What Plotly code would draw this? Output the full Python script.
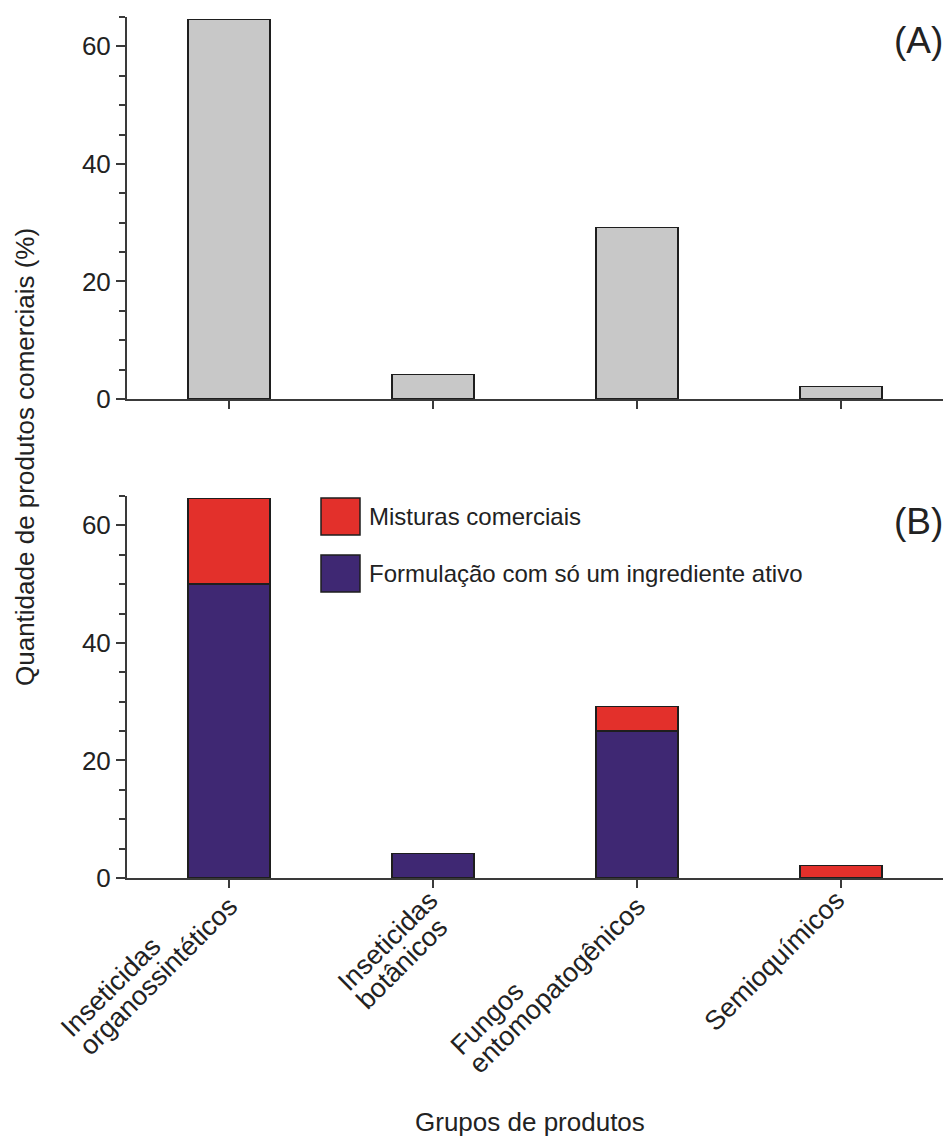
import plotly.graph_objects as go
from plotly.subplots import make_subplots

category_lines = [["Inseticidas", "organossintéticos"], ["Inseticidas", "botânicos"],
                  ["Fungos", "entomopatogênicos"], ["Semioquímicos"]]
total_pct = [64.6, 4.2, 29.2, 2.1]
single_ai = [50.0, 4.2, 25.0, 0.0]
mixtures = [14.6, 0.0, 4.2, 2.1]
y_ticks = [0, 20, 40, 60]

FONT = "Liberation Sans, Arial, sans-serif"
INK = "#222222"
AXIS = "#3A3A3A"
GREY = "#C8C8C8"
RED = "#E3302B"
BLUE = "#3F2873"
OUTLINE = "#1E1E1E"

# page body has an 8px margin: figure is drawn 8px smaller and content shifted
OFF = 8
W, H = 951 - OFF, 1140 - OFF
L, T = 127 - OFF, 17 - OFF
PR, PB = 945 - OFF, 878 - OFF
PW, PH = PR - L, PB - T

def px(xp):
    return (xp - OFF - L) / PW

def py(yp):
    return (PB - (yp - OFF)) / PH

x = list(range(len(category_lines)))

fig = make_subplots(rows=2, cols=1, shared_xaxes=False, vertical_spacing=0.1126)

fig.add_trace(go.Bar(x=x, y=total_pct, width=0.4, marker=dict(color=GREY, line=dict(color=OUTLINE, width=1.5)),
                     showlegend=False), row=1, col=1)
fig.add_trace(go.Bar(x=x, y=single_ai, width=0.4, name="Formulação com só um ingrediente ativo",
                     marker=dict(color=BLUE, line=dict(color=OUTLINE, width=1.5)), showlegend=False), row=2, col=1)
fig.add_trace(go.Bar(x=x, y=mixtures, width=0.4, name="Misturas comerciais",
                     marker=dict(color=RED, line=dict(color=OUTLINE, width=1.5)), showlegend=False), row=2, col=1)

fig.update_layout(barmode="stack")

ax_common = dict(showline=True, linecolor=AXIS, linewidth=2, showgrid=False, zeroline=False,
                 ticks="outside", tickcolor=AXIS, tickwidth=1.5)
fig.update_xaxes(**ax_common, range=[-0.5, 3.51], tickvals=x, ticklen=8, showticklabels=False)
fig.update_yaxes(**ax_common, range=[0, 65], tickvals=y_ticks, ticklen=9,
                 tickfont=dict(family=FONT, size=26, color=INK),
                 minor=dict(dtick=5, tick0=0, ticks="outside", ticklen=6, tickcolor=AXIS, tickwidth=1.5))

fig.update_layout(
    width=W, height=H,
    margin=dict(l=L, r=W - PR, t=T, b=H - PB),
    plot_bgcolor="white", paper_bgcolor="white",
    font=dict(family=FONT, color=INK),
)
fig.update_yaxes(domain=[py(399), 1.0], row=1, col=1)
fig.update_yaxes(domain=[0.0, py(496)], row=2, col=1)

# category labels (rotated, left-aligned lines, tight line spacing);
# the end of the longest line sits just below its tick
for xi, lines in zip(x, category_lines):
    n = len(lines)
    k = max(range(n), key=lambda i: len(lines[i]))
    txt = "<br>".join('<span style="font-size:27px">%s</span>' % s for s in lines)
    fig.add_annotation(text=txt, xref="x2", yref="y2", x=xi, y=0, xanchor="right", yanchor="top",
                       xshift=12 + 20 * (n - 1 - k) + 5 * k, yshift=-4 + 12 * k, textangle=-45,
                       align="left", showarrow=False, font=dict(family=FONT, size=20, color=INK))

# panel labels
fig.add_annotation(text="(A)", xref="paper", yref="paper", x=px(945), y=py(41), xanchor="right",
                   yanchor="middle", showarrow=False, font=dict(family=FONT, size=37, color=INK))
fig.add_annotation(text="(B)", xref="paper", yref="paper", x=px(945), y=py(521), xanchor="right",
                   yanchor="middle", showarrow=False, font=dict(family=FONT, size=37, color=INK))

# shared axis titles
fig.add_annotation(text="Quantidade de produtos comerciais (%)", xref="paper", yref="paper",
                   x=px(25), y=py(457), xanchor="center", yanchor="middle",
                   textangle=-90, showarrow=False, font=dict(family=FONT, size=26, color=INK))
fig.add_annotation(text="Grupos de produtos", xref="paper", yref="paper", x=px(530), y=py(1122),
                   xanchor="center", yanchor="middle", showarrow=False,
                   font=dict(family=FONT, size=26, color=INK))

# legend (drawn swatches)
legend_items = [("Misturas comerciais", RED), ("Formulação com só um ingrediente ativo", BLUE)]
for i, (label, col) in enumerate(legend_items):
    top = 498 + i * 57
    bot = top + 37
    fig.add_shape(type="rect", xref="paper", yref="paper",
                  x0=px(321), x1=px(360), y0=py(bot), y1=py(top),
                  fillcolor=col, line=dict(color=OUTLINE, width=1.5))
    fig.add_annotation(text=label, xref="paper", yref="paper", x=px(367),
                       y=py((top + bot) / 2), xanchor="left", yanchor="middle", showarrow=False,
                       font=dict(family=FONT, size=24, color=INK))

fig.write_html("out.html")
